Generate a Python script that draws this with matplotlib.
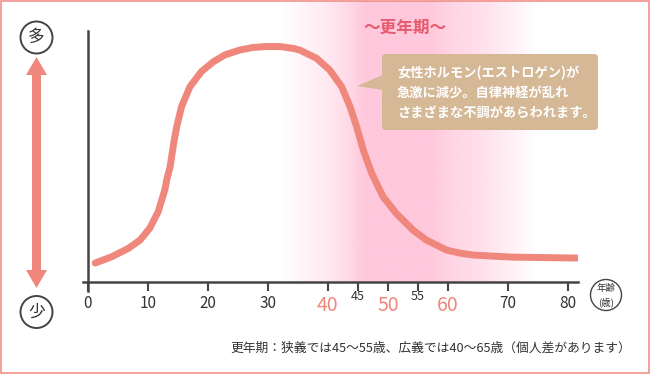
import numpy as np
import matplotlib.pyplot as plt
from matplotlib.patches import Circle, Polygon, FancyBboxPatch, Rectangle

plt.rcParams['font.family'] = ['Noto Sans CJK JP', 'DejaVu Sans']

# hormone level curve (100 = peak)
ages = [1.2, 4.0, 6.7, 8.7, 10.3, 11.7, 12.8, 13.2, 13.7, 14.2, 14.5, 14.8, 15.6,
        17.0, 18.9, 20.9, 22.8, 25.3, 27.5, 29.8, 32.0, 34.2, 35.3, 38.1, 40.3,
        42.3, 43.7, 44.8, 45.9, 47.3, 49.2, 51.4, 54.2, 56.4, 59.8, 62.0, 64.2,
        67.0, 70.8, 82.0]
levels = [8.1, 10.8, 14.3, 17.9, 22.9, 29.9, 39.1, 44.3, 49.1, 57.6, 62.1, 66.1, 74.6,
          83.1, 89.5, 93.7, 96.6, 98.7, 99.8, 100.2, 100.2, 99.4, 98.7, 95.2, 90.2,
          83.1, 74.6, 66.1, 56.2, 46.3, 36.3, 29.2, 22.1, 17.9, 13.6, 12.3, 11.5,
          11.1, 10.6, 10.2]

major_ticks = [0, 10, 20, 30, 40, 50, 60, 70, 80]
major_labels = ['0', '10', '20', '30', '40', '50', '60', '70', '80']
highlight = ['40', '50', '60']
minor_ticks = [45, 55]
minor_labels = ['45', '55']

# pink band behind the menopause years (age, strength)
band_ages = [32, 40, 44, 46, 57, 61, 66, 75]
band_alpha = [0.0, 0.4, 0.75, 1.0, 1.0, 0.75, 0.55, 0.0]

title = '～更年期～'
bubble_lines = ['女性ホルモン(エストロゲン)が', '急激に減少。自律神経が乱れ', 'さまざまな不調があらわれます。']
note = '更年期：狭義では45～55歳、広義では40～65歳（個人差があります）'

curve_col = '#F0877D'
axis_col = '#444444'

fig = plt.figure(figsize=(6.5, 3.74), dpi=100, facecolor='white')

# background layer in pixel coords
bg = fig.add_axes([0, 0, 1, 1], zorder=0)
bg.set_xlim(0, 650)
bg.set_ylim(374, 0)
bg.axis('off')

# double arrow on the left
cx = 36.5
sw, hw, hl = 4.5, 10.5, 18
top_y, bot_y = 57, 288
bg.add_patch(Polygon([(cx, top_y), (cx + hw, top_y + hl), (cx + sw, top_y + hl),
                      (cx + sw, bot_y - hl), (cx + hw, bot_y - hl), (cx, bot_y),
                      (cx - hw, bot_y - hl), (cx - sw, bot_y - hl), (cx - sw, top_y + hl),
                      (cx - hw, top_y + hl)], closed=True, color=curve_col, lw=0))
for y, s in [(37.5, '多'), (312, '少')]:
    bg.add_patch(Circle((cx, y), 16, fill=False, ec=axis_col, lw=1.4))
    bg.text(cx, y, s, ha='center', va='center', fontsize=12, color='#333333')

# age circle
bg.add_patch(Circle((606, 295), 15.5, fill=False, ec=axis_col, lw=1.0))
bg.text(606, 288, '年齢', ha='center', va='center', fontsize=6.8, color='#333333')
bg.text(606, 302, '(歳)', ha='center', va='center', fontsize=6.8, color='#333333')

bg.text(631, 348, note, ha='right', va='center', fontsize=9.2, color='#333333')

# main chart
ax = fig.add_axes([83 / 650, (374 - 291) / 374, 495 / 650, 260 / 374], zorder=1)
ax.patch.set_alpha(0)

grid_x = np.linspace(band_ages[0], band_ages[-1], 400)
rgba = np.zeros((1, len(grid_x), 4))
rgba[..., 0] = 1.0
rgba[..., 1] = 200 / 255
rgba[..., 2] = 220 / 255
rgba[0, :, 3] = np.interp(grid_x, band_ages, band_alpha)
ax.imshow(rgba, extent=[band_ages[0], band_ages[-1], 0, 119.4], aspect='auto',
          interpolation='bilinear', zorder=0, clip_on=False)

ax.plot(ages, levels, color=curve_col, lw=5, solid_capstyle='round',
        solid_joinstyle='round', zorder=3)

ax.set_xlim(-0.83, 81.7)
ax.set_ylim(-3.8, 106.8)

for side in ['top', 'right']:
    ax.spines[side].set_visible(False)
ax.spines['left'].set_position(('data', 0))
ax.spines['bottom'].set_position(('data', 0))
for side in ['left', 'bottom']:
    ax.spines[side].set_color(axis_col)
    ax.spines[side].set_linewidth(1.8)
    ax.spines[side].set_zorder(4)

ax.set_yticks([])
ax.set_xticks(major_ticks)
ax.set_xticklabels(major_labels)
ax.set_xticks(minor_ticks, minor=True)
ax.set_xticklabels(minor_labels, minor=True)
ax.tick_params(axis='x', which='major', length=6.5, width=1.5, color=axis_col,
               labelsize=11, labelcolor='#333333', pad=3)
ax.tick_params(axis='x', which='minor', length=6.5, width=1.5, color=axis_col,
               labelsize=9, labelcolor='#333333', pad=-0.5)
for lab in ax.get_xticklabels():
    if lab.get_text() in highlight:
        lab.set_color(curve_col)
        lab.set_fontsize(14)

ax.text(52.8, 108, title, ha='center', va='center', fontsize=12, fontweight='bold',
        color='#E85A6E', clip_on=False)

# overlay: speech bubble and border
top = fig.add_axes([0, 0, 1, 1], zorder=2)
top.set_xlim(0, 650)
top.set_ylim(374, 0)
top.axis('off')
top.patch.set_alpha(0)
bub_col = '#D5B896'
top.add_patch(FancyBboxPatch((382, 54), 216, 76, boxstyle='round,pad=0,rounding_size=4',
                             fc=bub_col, ec='none'))
top.add_patch(Polygon([(383, 75), (357, 86), (383, 90)], closed=True, fc=bub_col, ec='none'))
for i, line in enumerate(bubble_lines):
    top.text(397, 73 + 20 * i, line, ha='left', va='center', fontsize=9.5,
             fontweight='bold', color='white')

top.add_patch(Rectangle((0.75, 0.75), 648.5, 372.5, fill=False, ec=curve_col, lw=1.1))

fig.savefig('out.png', dpi=100, facecolor='white')
